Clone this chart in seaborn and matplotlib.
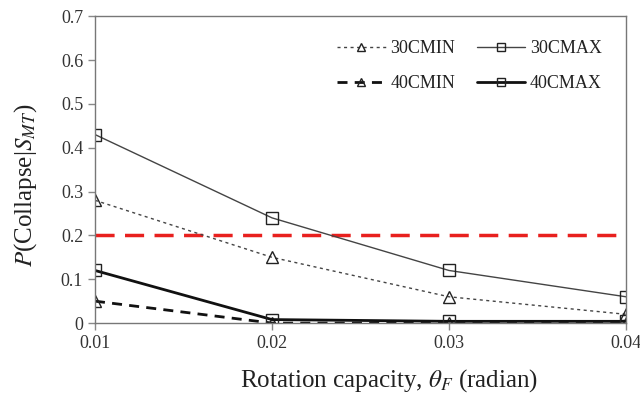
import numpy as np
import pandas as pd
import matplotlib
matplotlib.use("Agg")
import matplotlib.pyplot as plt
import seaborn as sns

# rotation capacity (radian)
theta = [0.01, 0.02, 0.03, 0.04]

# collapse probability given S_MT
p_30cmin = [0.28, 0.15, 0.06, 0.02]
p_30cmax = [0.43, 0.24, 0.12, 0.06]
p_40cmin = [0.05, 0.0, 0.0, 0.0]
p_40cmax = [0.12, 0.008, 0.004, 0.004]

limit = 0.2

sns.set_style("ticks")
plt.rcParams['font.family'] = ['Liberation Serif', 'DejaVu Serif']
plt.rcParams['mathtext.fontset'] = 'stix'

fig = plt.figure(figsize=(6.4, 3.94), dpi=100)
ax = fig.add_axes([0.1484, 0.180, 0.8296, 0.779])

# threshold line
sns.lineplot(x=[theta[0], theta[-1]], y=[limit, limit], ax=ax, color='#e8201e',
             linewidth=2.5, legend=False)
ax.lines[-1].set_linestyle((0, (5.5, 3)))

series = [
    ("30CMIN", p_30cmin, '^', '#444444', 1.0, (0, (2.2, 2.5))),
    ("30CMAX", p_30cmax, 's', '#444444', 1.0, '-'),
    ("40CMIN", p_40cmin, '^', '#111111', 2.0, (0, (3.6, 2.6))),
    ("40CMAX", p_40cmax, 's', '#111111', 2.0, '-'),
]

handles = {}
for name, vals, mk, col, lw, ls in series:
    df = pd.DataFrame({"theta": theta, "p": vals})
    sns.lineplot(data=df, x="theta", y="p", ax=ax, color=col, linewidth=lw,
                 marker=mk, markersize=8, markerfacecolor='none',
                 markeredgecolor='#222222', markeredgewidth=1.0, label=name)
    ax.lines[-1].set_linestyle(ls)
    handles[name] = ax.lines[-1]

ax.set_xlim(0.01, 0.04)
ax.set_ylim(0, 0.7)
ax.set_xticks(theta)
ax.set_xticklabels(["0.01", "0.02", "0.03", "0.04"])
ax.set_yticks(np.arange(0, 0.71, 0.1))
ax.set_yticklabels(["0", "0.1", "0.2", "0.3", "0.4", "0.5", "0.6", "0.7"])
ax.tick_params(labelsize=13, colors='#888888', labelcolor='#333333',
               length=5, width=1)

for s in ax.spines.values():
    s.set_color('#777777')
    s.set_linewidth(1.0)
    s.set_visible(True)

ax.set_xlabel(r"Rotation capacity, $\theta_F$ (radian)", fontsize=18,
              color='#222222')
ax.xaxis.set_label_coords(0.554, -0.145)
ax.set_ylabel(r"$P$(Collapse|$S_{MT}$)", fontsize=18, color='#222222')
ax.yaxis.set_label_coords(-0.105, 0.45)

# column-first fill: rows read 30CMIN/30CMAX then 40CMIN/40CMAX
order = ["30CMIN", "40CMIN", "30CMAX", "40CMAX"]
leg = ax.legend([handles[k] for k in order], order, ncol=2,
                loc='upper right', frameon=False, fontsize=13,
                handlelength=2.7, columnspacing=1.2, labelspacing=1.0,
                handletextpad=0.25, markerscale=0.7,
                bbox_to_anchor=(0.985, 0.975))
for t in leg.get_texts():
    t.set_color('#222222')

fig.savefig("out.png", dpi=100)
